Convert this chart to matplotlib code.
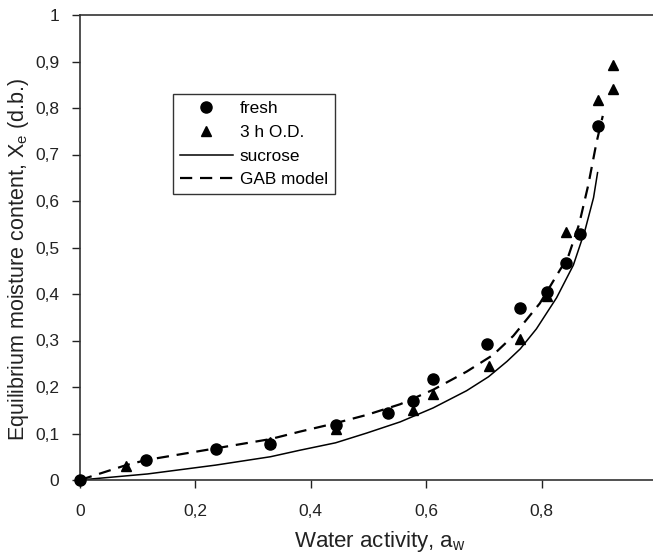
import matplotlib
matplotlib.use("Agg")
import matplotlib.pyplot as plt

plt.rcParams['font.family'] = ['Liberation Sans', 'DejaVu Sans']
plt.rcParams['mathtext.fontset'] = 'custom'
plt.rcParams['mathtext.rm'] = 'Liberation Sans'
plt.rcParams['mathtext.it'] = 'Liberation Sans'

# experimental points
fresh_aw = [0.0, 0.115, 0.235, 0.330, 0.443, 0.534, 0.577, 0.612, 0.706, 0.762, 0.810, 0.843, 0.866, 0.898]
fresh_x = [0.0, 0.043, 0.066, 0.078, 0.118, 0.145, 0.170, 0.218, 0.292, 0.370, 0.404, 0.466, 0.530, 0.761]

od_aw = [0.080, 0.330, 0.443, 0.577, 0.612, 0.708, 0.762, 0.810, 0.842, 0.898, 0.923, 0.923]
od_x = [0.030, 0.082, 0.110, 0.151, 0.184, 0.246, 0.303, 0.396, 0.534, 0.817, 0.840, 0.892]

# curves
sucrose_aw = [0.0, 0.117, 0.235, 0.330, 0.381, 0.443, 0.497, 0.555, 0.612, 0.670, 0.708,
              0.740, 0.763, 0.791, 0.826, 0.855, 0.875, 0.890, 0.897]
sucrose_x = [0.0, 0.013, 0.032, 0.050, 0.064, 0.080, 0.101, 0.125, 0.155, 0.192, 0.222,
             0.255, 0.282, 0.325, 0.392, 0.462, 0.536, 0.607, 0.661]

gab_aw = [0.0, 0.080, 0.115, 0.235, 0.330, 0.381, 0.439, 0.497, 0.555, 0.612, 0.670,
          0.716, 0.751, 0.797, 0.832, 0.846, 0.865, 0.881, 0.895, 0.906]
gab_x = [0.0, 0.032, 0.043, 0.068, 0.088, 0.104, 0.121, 0.140, 0.163, 0.194, 0.233,
         0.269, 0.310, 0.380, 0.452, 0.480, 0.550, 0.635, 0.725, 0.783]

xticks = [0, 0.2, 0.4, 0.6, 0.8, 1]
xtick_labels = ['0', '0,2', '0,4', '0,6', '0,8', '1']
yticks = [0, 0.1, 0.2, 0.3, 0.4, 0.5, 0.6, 0.7, 0.8, 0.9, 1]
ytick_labels = ['0', '0,1', '0,2', '0,3', '0,4', '0,5', '0,6', '0,7', '0,8', '0,9', '1']

fig = plt.figure(figsize=(6.53, 5.56), dpi=100)
ax = fig.add_axes([80/653, 76/556, 577/653, 465/556])

ax.plot(fresh_aw, fresh_x, 'o', color='black', markersize=8, label='fresh', clip_on=False, zorder=4)
ax.plot(od_aw, od_x, '^', color='black', markersize=7.5, label='3 h O.D.', clip_on=False, zorder=4)
ax.plot(sucrose_aw, sucrose_x, '-', color='black', linewidth=1.1, label='sucrose',
        solid_joinstyle='round')
ax.plot(gab_aw, gab_x, '--', color='black', linewidth=1.6, dashes=(5.5, 3.5), label='GAB model')

ax.set_xlim(0, 1)
ax.set_ylim(0, 1)
ax.set_xticks(xticks)
ax.set_xticklabels(xtick_labels)
ax.set_yticks(yticks)
ax.set_yticklabels(ytick_labels)
ax.tick_params(direction='out', length=6, width=1, labelsize=12.5, colors='#222222')
ax.tick_params(axis='x', pad=11)
ax.tick_params(axis='y', pad=9)
ax.spines['right'].set_visible(False)
for s in ['left', 'bottom', 'top']:
    ax.spines[s].set_color('#333333')
    ax.spines[s].set_linewidth(1.2)

ax.set_xlabel('Water activity, a$_\\mathrm{w}$', fontsize=16, color='#222222', labelpad=6)
ax.xaxis.set_label_coords(0.52, -0.105)
ax.set_ylabel('Equilibrium moisture content, X$_\\mathrm{e}$ (d.b.)', fontsize=15.5,
              color='#222222')
ax.yaxis.set_label_coords(-0.085, 0.475)

leg = ax.legend(loc='upper left', bbox_to_anchor=(0.1607, 0.8295), borderaxespad=0,
                fontsize=12.4, frameon=True, fancybox=False, edgecolor='black',
                handlelength=3.1, handletextpad=0.4, borderpad=0.4, labelspacing=0.5)
leg.get_frame().set_linewidth(1.0)

fig.savefig('out.png', dpi=100)
